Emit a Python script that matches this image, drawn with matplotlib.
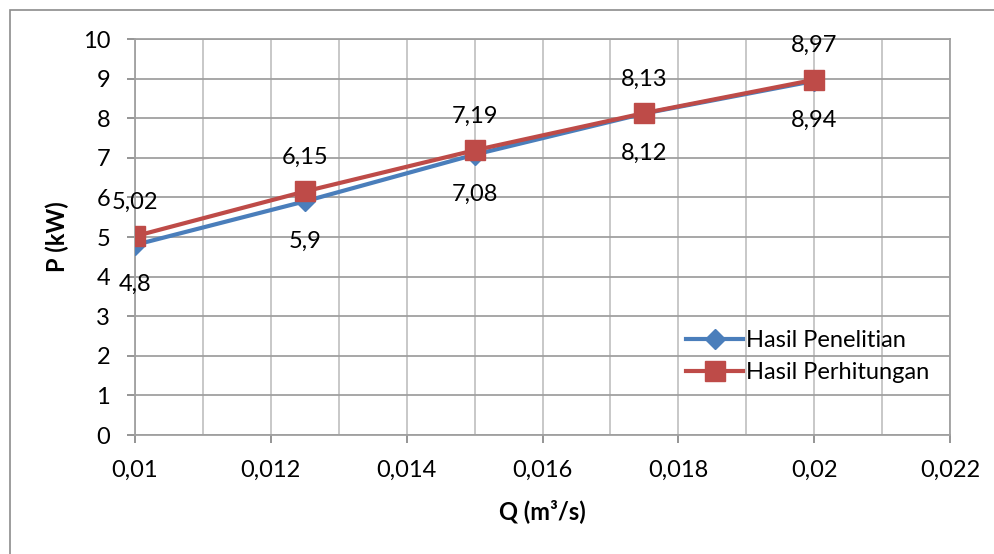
import matplotlib
matplotlib.use("Agg")
import matplotlib.pyplot as plt
from matplotlib.patches import Rectangle
from matplotlib.ticker import MultipleLocator, FuncFormatter

plt.rcParams["font.family"] = ["Lato", "DejaVu Sans"]

# debit (m3/s) dan daya (kW)
q = [0.01, 0.0125, 0.015, 0.0175, 0.02]
p_penelitian = [4.8, 5.9, 7.08, 8.12, 8.94]
p_perhitungan = [5.02, 6.15, 7.19, 8.13, 8.97]
label_penelitian = "Hasil Penelitian"
label_perhitungan = "Hasil Perhitungan"

BLUE = "#4A7EBB"
RED = "#BE4B48"
GRID = "#a0a0a0"
FS = 17


def koma(v, _pos=None):
    s = f"{v:.3f}".rstrip("0").rstrip(".")
    return s.replace(".", ",")


fig = plt.figure(figsize=(9.95, 5.54), dpi=100)
ax = fig.add_axes([0.1357, 0.2148, 0.8191, 0.7148])

# bingkai luar
fig.patches.append(Rectangle((10 / 995, -0.1), 1.2, 1 - 10 / 554 + 0.1,
                             transform=fig.transFigure, fill=False,
                             edgecolor="#8c8c8c", linewidth=1.2, zorder=0))

ax.plot(q, p_penelitian, color=BLUE, linewidth=3, marker="D", markersize=10,
        label=label_penelitian, zorder=3)
ax.plot(q, p_perhitungan, color=RED, linewidth=3, marker="s", markersize=14,
        label=label_perhitungan, zorder=4)

for x, y in zip(q, p_penelitian):
    ax.annotate(koma(y), (x, y), xytext=(0, -21), textcoords="offset points",
                ha="center", va="top", fontsize=FS)
for x, y in zip(q, p_perhitungan):
    ax.annotate(koma(y), (x, y), xytext=(0, 17), textcoords="offset points",
                ha="center", va="bottom", fontsize=FS)

ax.set_xlim(0.01, 0.022)
ax.set_ylim(0, 10)
ax.xaxis.set_major_locator(MultipleLocator(0.002))
ax.xaxis.set_minor_locator(MultipleLocator(0.001))
ax.yaxis.set_major_locator(MultipleLocator(1))
ax.xaxis.set_major_formatter(FuncFormatter(koma))
ax.yaxis.set_major_formatter(FuncFormatter(koma))

ax.grid(True, which="major", axis="y", color=GRID, linewidth=1.3)
ax.grid(True, which="both", axis="x", color="#c4c4c4", linewidth=1.3)
ax.set_axisbelow(True)
for s in ax.spines.values():
    s.set_color(GRID)
    s.set_linewidth(1.3)
ax.tick_params(axis="both", which="major", length=6, color="#8c8c8c",
               labelsize=FS, width=1.3)
ax.tick_params(axis="x", which="major", pad=12)
ax.tick_params(axis="y", which="major", pad=12)
ax.tick_params(axis="x", which="minor", length=0)

ax.set_xlabel("Q (m³/s)", fontsize=FS, fontweight="bold", labelpad=13)
ax.set_ylabel("P (kW)", fontsize=FS, fontweight="bold", labelpad=10)

ax.legend(loc="lower right", bbox_to_anchor=(1.0, 0.078), frameon=False,
          fontsize=FS, handlelength=2.4, handletextpad=0.1, labelspacing=0.45)

fig.savefig("out.png", dpi=100)
